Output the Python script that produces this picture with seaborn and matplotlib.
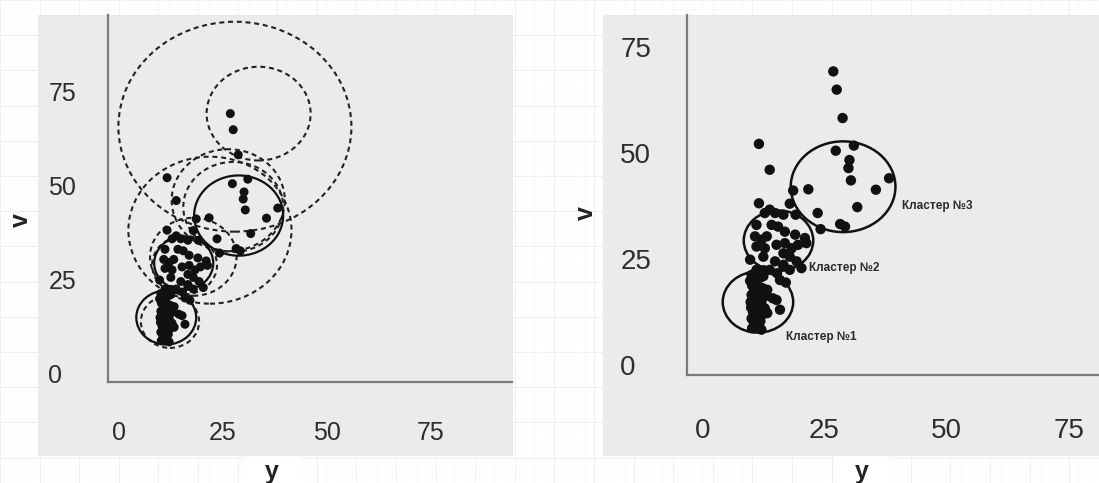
import numpy as np
import pandas as pd
import seaborn as sns
import matplotlib
matplotlib.use("Agg")
import matplotlib.pyplot as plt
from matplotlib.patches import Circle, Rectangle

# ---------------- data ----------------
# observations (x axis = "y", y axis = "v")
pts_y = [
    26.8, 27.5, 28.7, 11.6, 13.8, 27.3, 31.0, 30.1, 29.9, 30.4, 38.2, 35.5, 21.7, 18.6,
    31.7, 23.6, 11.6, 17.9, 28.2, 29.2, 24.2, 19.1,
    12.8, 14.9, 16.6, 13.8, 11.1, 14.2, 15.5, 16.9, 19.0, 21.0, 10.8, 12.1, 13.2, 11.1,
    12.8, 15.2, 16.9, 18.3, 19.6, 21.3, 12.5, 16.6, 17.9, 14.9, 9.8, 16.6, 19.3, 11.1,
    17.9, 20.3,
    10.2, 11.3, 10.6, 11.9, 10.1, 11.0, 12.4, 10.4, 11.6, 10.0, 10.9, 12.1, 10.3, 11.4,
    10.1, 11.8, 10.7, 12.3, 10.2, 11.2, 10.5, 11.9, 10.1, 11.0, 12.6,
    12.9, 12.8, 9.8, 9.9, 12.5, 11.5,
    15.9, 14.4, 13.3, 15.2, 13.3, 10.8, 15.9, 17.1, 15.3, 13.8, 16.6, 12.1,
]
pts_v = [
    69.2, 64.9, 58.2, 52.1, 46.0, 50.5, 51.7, 48.3, 46.4, 43.5, 44.0, 41.3, 41.4, 41.1,
    37.2, 35.8, 38.1, 38.0, 33.2, 32.6, 32.0, 35.4,
    35.8, 35.8, 35.4, 36.6, 33.0, 33.0, 32.6, 31.4, 30.7, 29.9, 30.3, 29.5, 30.3, 27.9,
    27.5, 28.3, 28.7, 27.5, 28.3, 28.7, 25.5, 26.3, 25.5, 24.4, 24.8, 23.6, 24.4, 22.4,
    22.4, 22.8,
    8.6, 9.0, 9.8, 10.3, 10.9, 11.5, 11.9, 12.4, 12.9, 13.5, 14.1, 14.6, 15.2, 15.8,
    16.5, 17.0, 17.6, 18.1, 18.7, 19.3, 20.0, 20.6, 21.2, 21.8, 22.3,
    16.2, 13.3, 19.8, 14.8, 20.9, 10.5,
    13.0, 15.7, 17.7, 15.3, 12.2, 9.0, 20.0, 19.4, 21.6, 22.4, 23.2, 8.3,
]

# final clusters (centre y, centre v, radius)
cl_x = [11.4, 15.6, 28.8]
cl_y = [14.8, 29.3, 42.0]
cl_r = [7.2, 7.1, 10.7]
cl_names = ["Кластер №1", "Кластер №2", "Кластер №3"]
cl_lab_x = [17.1, 21.9, 40.8]
cl_lab_y = [6.6, 22.8, 37.5]

# intermediate (dashed) circles of the left panel
dc_x = [27.9, 33.6, 21.9, 26.3, 27.5, 12.3, 17.9, 15.8]
dc_y = [65.7, 69.2, 38.1, 46.1, 44.3, 13.7, 31.0, 28.8]
dc_r = [28.0, 12.5, 19.6, 13.6, 12.0, 7.0, 10.4, 7.8]

ticks = [0, 25, 50, 75]
tick_labels = ["0", "25", "50", "75"]

df = pd.DataFrame({"y": pts_y, "v": pts_v})

# ---------------- style ----------------
sns.set_style("white")
plt.rcParams["font.family"] = ["Liberation Sans", "DejaVu Sans"]

W, H = 1099, 483
fig = plt.figure(figsize=(W / 100, H / 100), dpi=100, facecolor="white")

# background: faint graph paper + grey panels (pixel coordinates)
bg = fig.add_axes([0, 0, 1, 1], zorder=-10)
bg.set_xlim(0, W)
bg.set_ylim(H, 0)
bg.axis("off")
for gx in np.arange(0, W, 9.9):
    bg.axvline(gx, color="#f8f8f8", lw=0.5)
for gy in np.arange(0, H, 8.8):
    bg.axhline(gy, color="#f8f8f8", lw=0.5)
for gx in np.arange(0, W, 39.6):
    bg.axvline(gx, color="#efefef", lw=0.7)
for gy in np.arange(0, H, 35.2):
    bg.axhline(gy, color="#efefef", lw=0.7)
panel_col = "#ebebec"
bg.add_patch(Rectangle((38, 15), 474, 440, color=panel_col, zorder=2))
bg.add_patch(Rectangle((603, 15), 496, 440, color=panel_col, zorder=2))
bg.add_patch(Rectangle((245, 457), 55, 26, color="white", zorder=2))
bg.add_patch(Rectangle((835, 457), 55, 26, color="white", zorder=2))


def px_axes(l, r, t, b):
    return [l / W, 1 - b / H, (r - l) / W, (b - t) / H]


ax1 = fig.add_axes(px_axes(108, 512, 15, 382))
ax2 = fig.add_axes(px_axes(687, 1099, 15, 375))

ax1.set_xlim(-2.6, 94.5)
ax1.set_ylim(-2.4, 95.5)
ax2.set_xlim(-3.1, 81.1)
ax2.set_ylim(-2.4, 82.5)

for ax, fs, ypad, xpad in [(ax1, 18, 43, 28), (ax2, 20, 48, 31)]:
    ax.set_facecolor("none")
    for s in ["top", "right"]:
        ax.spines[s].set_visible(False)
    for s in ["left", "bottom"]:
        ax.spines[s].set_color("#7a7a7a")
        ax.spines[s].set_linewidth(1.6)
    ax.set_xticks(ticks)
    ax.set_xticklabels(tick_labels)
    ax.set_yticks(ticks)
    ax.set_yticklabels(tick_labels, ha="left")
    ax.tick_params(axis="both", length=0, labelsize=fs, labelcolor="#2e2e2e")
    ax.tick_params(axis="y", pad=ypad)
    ax.tick_params(axis="x", pad=xpad)
    ax.grid(False)

# left panel: points + hierarchical circles
sns.scatterplot(data=df, x="y", y="v", ax=ax1, color="#111111", s=42,
                edgecolor="none", legend=False, zorder=3)
for x, y, r in zip(dc_x, dc_y, dc_r):
    ax1.add_patch(Circle((x, y), r, fill=False, ls=(0, (2.4, 1.8)), lw=1.5,
                         ec="#222222", zorder=2))
for x, y, r in zip(cl_x, cl_y, cl_r):
    ax1.add_patch(Circle((x, y), r, fill=False, lw=1.6, ec="#111111", zorder=4))

# right panel: points + final clusters
sns.scatterplot(data=df, x="y", y="v", ax=ax2, color="#111111", s=56,
                edgecolor="none", legend=False, zorder=3)
for x, y, r in zip(cl_x, cl_y, cl_r):
    ax2.add_patch(Circle((x, y), r, fill=False, lw=1.8, ec="#111111", zorder=4))
for name, x, y in zip(cl_names, cl_lab_x, cl_lab_y):
    ax2.text(x, y, name, fontsize=8.5, fontweight="bold", color="#2a2a2a",
             ha="left", va="center")

# axis titles
for ax, xl, yt, vx, vy in [(ax1, 0.406, -0.2125, -0.186, 0.441),
                           (ax2, 0.425, -0.236, -0.216, 0.45)]:
    ax.set_xlabel("y", fontsize=18, fontweight="bold", color="#222222")
    ax.xaxis.set_label_coords(xl, yt)
    ax.set_ylabel("v", fontsize=18, fontweight="bold", color="#222222")
    ax.yaxis.set_label_coords(vx, vy)

fig.savefig("out.png", dpi=100, facecolor="white")
